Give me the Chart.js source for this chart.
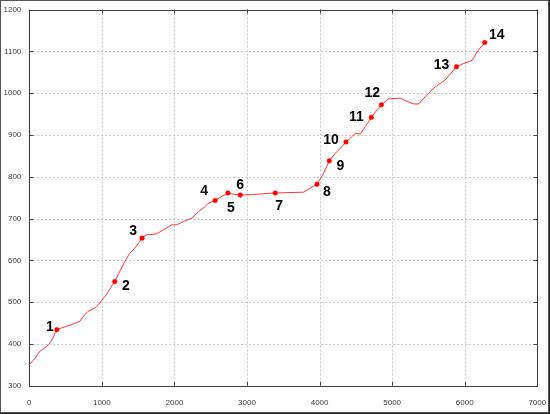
<!DOCTYPE html>
<html>
<head>
<meta charset="utf-8">
<script src="https://cdn.jsdelivr.net/npm/chart.js@4/dist/chart.umd.min.js"></script>
<style>
html,body{margin:0;padding:0;background:#fff;}
#wrap{width:550px;height:414px;position:relative;}
</style>
</head>
<body>
<div id="wrap"><canvas id="c" width="550" height="414"></canvas></div>
<script>
// Trace (line) data
const lineX = [0,51,97,143,212,281,327,372,441,579,695,764,810,902,971,1062,1131,1178,1223,1316,1385,1454,1554,1614,1752,1848,1964,2033,2124,2240,2331,2400,2469,2561,2654,2737,2814,2906,3044,3389,3779,3964,4055,4134,4217,4286,4364,4423,4492,4561,4630,4713,4792,4851,4952,5113,5206,5297,5366,5458,5572,5734,5886,5986,6102,6171,6276];
const lineY = [350,360,370,382,390,402,414,434,438,446,454,470,478,486,498,518,537,549,565,597,617,629,653,661,663,673,685,685,693,701,717,725,737,743,753,761,758,756,757,761,763,782,808,838,856,868,883,892,904,902,920,942,960,972,986,988,980,974,974,992,1012,1032,1063,1071,1078,1099,1121];
// Marked points
const pointX = [380,1178,1554,2561,2737,2906,3389,3964,4134,4364,4713,4851,5886,6276];
const pointY = [434,549,653,743,761,756,761,782,838,883,942,972,1063,1121];
const pointLabels = ["1","2","3","4","5","6","7","8","9","10","11","12","13","14"];
// Axis ticks
const xTicks = [0,1000,2000,3000,4000,5000,6000,7000];
const yTicks = [300,400,500,600,700,800,900,1000,1100,1200];

// label offsets (pixels) relative to each marked point
const labelDX = [-7,11,-9,-11,3,0,4,10,11,-15,-15,-9,-15,12];
const labelDY = [-3,5,-7,-9,15,-10,13,8,5,-2,0,-12,-2,-7];

const lineData = lineX.map((x,i)=>({x:x,y:lineY[i]}));
const ptData = pointX.map((x,i)=>({x:x,y:pointY[i]}));

const framePlugin = {
  id:'frame',
  beforeDraw(chart){
    const ctx = chart.ctx;
    ctx.save();
    ctx.fillStyle='#fff';
    ctx.fillRect(0,0,chart.width,chart.height);
    ctx.restore();
  },
  beforeDatasetsDraw(chart){
    const ctx = chart.ctx, a = chart.chartArea;
    const xs = chart.scales.x, ys = chart.scales.y;
    ctx.save();
    ctx.strokeStyle='#c4c4c4';
    ctx.lineWidth=1;
    ctx.setLineDash([2,2]);
    ctx.beginPath();
    xTicks.forEach(v=>{
      const p = Math.round(xs.getPixelForValue(v))+0.5;
      ctx.moveTo(p,a.top); ctx.lineTo(p,a.bottom);
    });
    yTicks.forEach(v=>{
      const p = Math.round(ys.getPixelForValue(v))+0.5;
      ctx.moveTo(a.left,p); ctx.lineTo(a.right,p);
    });
    ctx.stroke();
    ctx.restore();
  },
  afterDraw(chart){
    const ctx = chart.ctx, a = chart.chartArea;
    const xs = chart.scales.x, ys = chart.scales.y;
    ctx.save();
    // tick labels
    ctx.fillStyle='#3c3c3c';
    ctx.font='8px "Liberation Sans", Arial, sans-serif';
    ctx.textBaseline='middle';
    ctx.textAlign='right';
    yTicks.forEach(v=>{
      ctx.fillText(String(v), 21.3, ys.getPixelForValue(v));
    });
    ctx.textAlign='center';
    xTicks.forEach(v=>{
      ctx.fillText(String(v), xs.getPixelForValue(v), 402.5);
    });
    // inward ticks
    ctx.strokeStyle='#444';
    ctx.lineWidth=1;
    ctx.beginPath();
    xTicks.forEach(v=>{
      const p = Math.round(xs.getPixelForValue(v))+0.5;
      ctx.moveTo(p,a.bottom); ctx.lineTo(p,a.bottom-4);
      ctx.moveTo(p,a.top); ctx.lineTo(p,a.top+4);
    });
    yTicks.forEach(v=>{
      const p = Math.round(ys.getPixelForValue(v))+0.5;
      ctx.moveTo(a.left,p); ctx.lineTo(a.left+4,p);
      ctx.moveTo(a.right,p); ctx.lineTo(a.right-4,p);
    });
    ctx.stroke();
    // plot border
    ctx.strokeStyle='#3a3a3a';
    ctx.strokeRect(Math.round(a.left)+0.5, Math.round(a.top)+0.5, Math.round(a.right-a.left), Math.round(a.bottom-a.top));
    // outer frame
    ctx.strokeStyle='#555';
    ctx.strokeRect(0.5,0.5,548,412);
    ctx.strokeStyle='#222';
    ctx.beginPath();
    ctx.moveTo(549.5,0); ctx.lineTo(549.5,414);
    ctx.moveTo(0,413.5); ctx.lineTo(550,413.5);
    ctx.stroke();
    ctx.restore();
  },
  afterDatasetsDraw(chart){
    const ctx = chart.ctx;
    const xs = chart.scales.x, ys = chart.scales.y;
    ctx.save();
    ctx.fillStyle='#000';
    ctx.font='bold 14px "Liberation Sans", Arial, sans-serif';
    ctx.textAlign='center';
    ctx.textBaseline='middle';
    pointLabels.forEach((t,i)=>{
      const px = xs.getPixelForValue(pointX[i]) + labelDX[i];
      const py = ys.getPixelForValue(pointY[i]) + labelDY[i];
      ctx.fillText(t,px,py);
    });
    ctx.restore();
  }
};

new Chart(document.getElementById('c'),{
  type:'scatter',
  data:{
    datasets:[
      {data:lineData, showLine:true, borderColor:'rgba(255,0,0,0.8)', borderWidth:1, pointRadius:0, tension:0, order:2},
      {data:ptData, showLine:false, pointRadius:2.3, pointStyle:'circle', backgroundColor:'#ff0000', borderColor:'#ff0000', borderWidth:0.5, order:1}
    ]
  },
  options:{
    responsive:false,
    animation:false,
    events:[],
    layout:{padding:{left:0,right:12.7,top:9.5,bottom:0}},
    plugins:{legend:{display:false}, tooltip:{enabled:false}},
    scales:{
      x:{
        type:'linear', min:0, max:7000,
        afterBuildTicks(s){ s.ticks = xTicks.map(v=>({value:v})); },
        afterFit(s){ s.height = 28.3; s.paddingLeft = 0; s.paddingRight = 0; },
        grid:{display:false},
        border:{display:false},
        ticks:{display:false}
      },
      y:{
        type:'linear', min:300, max:1200,
        afterBuildTicks(s){ s.ticks = yTicks.map(v=>({value:v})); },
        afterFit(s){ s.width = 29.3; s.paddingTop = 0; s.paddingBottom = 0; },
        grid:{display:false},
        border:{display:false},
        ticks:{display:false}
      }
    }
  },
  plugins:[framePlugin]
});
</script>
</body>
</html>
